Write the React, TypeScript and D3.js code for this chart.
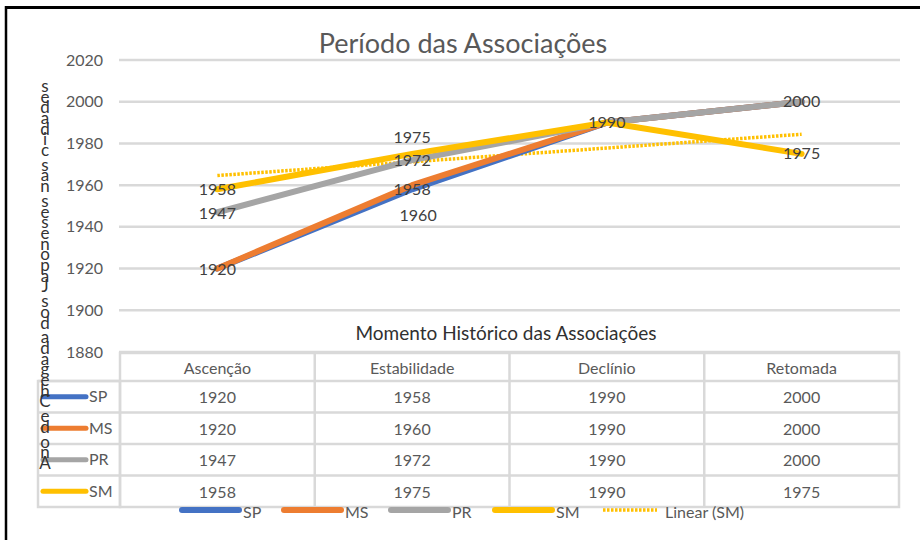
import React from "react";
import * as d3 from "d3";

// categories + series values
const categories = ["Ascenção", "Estabilidade", "Declínio", "Retomada"];
const seriesNames = ["SP", "MS", "PR", "SM"];
const spValues = [1920, 1958, 1990, 2000];
const msValues = [1920, 1960, 1990, 2000];
const prValues = [1947, 1972, 1990, 2000];
const smValues = [1958, 1975, 1990, 1975];
const yTicks = [1880, 1900, 1920, 1940, 1960, 1980, 2000, 2020];

const title = "Período das Associações";
const tableTitle = "Momento Histórico das Associações";
const axisTitle = "Ano de Chegada dos Japoneses nas cidades";
const trendLabel = "Linear (SM)";

const colors: Record<string, string> = {
  SP: "#4472C4",
  MS: "#ED7D31",
  PR: "#A5A5A5",
  SM: "#FFC000",
};

// data label nudges (dx, dy) per series / category
const labelNudge: Record<string, [number, number][]> = {
  SP: [[0, 1], [0, 0], [0, 0], [0, 0]],
  MS: [[0, 1], [6, 30], [0, 0], [0, 0]],
  PR: [[0, 1], [0, 0], [0, 0], [0, 0]],
  SM: [[0, 0], [0, -16], [0, 0], [0, 0]],
};

const FONT = "Lato, 'Open Sans', sans-serif";
const GRID = "#D9D9D9";
const TEXT = "#595959";

export default function App() {
  const width = 920;
  const height = 540;

  const series = [
    { name: "SP", values: spValues },
    { name: "MS", values: msValues },
    { name: "PR", values: prValues },
    { name: "SM", values: smValues },
  ];

  const x = d3.scaleBand<string>().domain(categories).range([120, 899]).padding(0);
  const cx = (c: string) => (x(c) as number) + x.bandwidth() / 2;
  const y = d3.scaleLinear().domain([1880, 2020]).range([352, 60]);

  const line = d3
    .line<number>()
    .x((_, i) => cx(categories[i]))
    .y((d) => y(d));

  // linear trendline for SM (least squares over category index)
  const idx = smValues.map((_, i) => i + 1);
  const mx = d3.mean(idx) as number;
  const my = d3.mean(smValues) as number;
  const slope =
    d3.sum(idx, (v, i) => (v - mx) * (smValues[i] - my)) /
    d3.sum(idx, (v) => (v - mx) * (v - mx));
  const trend = idx.map((v) => my + slope * (v - mx));

  // data labels; identical ones on the same spot drawn once
  const labels: { key: string; x: number; y: number; v: number }[] = [];
  const seen = new Set<string>();
  series.forEach((s) =>
    s.values.forEach((v, i) => {
      const lx = cx(categories[i]) + labelNudge[s.name][i][0];
      const ly = y(v) + labelNudge[s.name][i][1];
      const k = `${Math.round(lx)}-${Math.round(ly)}-${v}`;
      if (seen.has(k)) return;
      seen.add(k);
      labels.push({ key: s.name + i, x: lx, y: ly, v });
    })
  );

  // table geometry
  const tableTop = 353;
  const headerBottom = 381;
  const rowH = 31.5;
  const rowY = (i: number) => headerBottom + i * rowH;
  const tableBottom = rowY(seriesNames.length);
  const keyLeft = 38;
  const colEdges = categories.map((c) => x(c) as number).concat([899]);

  // stacked axis title, drawn bottom-up with upright glyphs
  const axisGlyphs: { ch: string; y: number }[] = [];
  let gy = 463;
  for (const ch of axisTitle) {
    if (ch !== " ") axisGlyphs.push({ ch, y: gy });
    gy -= ch === " " ? 4 : 10.7;
  }

  const legendItems = [
    { name: "SP", x0: 182 },
    { name: "MS", x0: 284 },
    { name: "PR", x0: 391 },
    { name: "SM", x0: 495 },
  ];

  return (
    <svg
      width={width}
      height={height}
      style={{ position: "absolute", left: 0, top: 0, background: "#fff", fontFamily: FONT }}
    >
      <rect x={0} y={0} width={width} height={height} fill="#fff" />
      {/* frame */}
      <line x1={5} x2={920} y1={7.5} y2={7.5} stroke="#000" strokeWidth={3} />
      <line x1={6} x2={6} y1={6} y2={540} stroke="#000" strokeWidth={2.5} />

      <text x={463} y={53} textAnchor="middle" fontSize={27} fill={TEXT}>
        {title}
      </text>

      {/* gridlines + y ticks */}
      {yTicks.map((t) => (
        <g key={t}>
          <line x1={119} x2={900} y1={y(t)} y2={y(t)} stroke={GRID} strokeWidth={2.5} />
          <text x={103} y={y(t)} dy="0.35em" textAnchor="end" fontSize={16} fill={TEXT}>
            {t}
          </text>
        </g>
      ))}

      {/* trendline */}
      <path
        d={line(trend) as string}
        fill="none"
        stroke={colors.SM}
        strokeWidth={3.5}
        strokeDasharray="2.5 1.5"
      />

      {/* series lines */}
      {series.map((s) => (
        <path
          key={s.name}
          d={line(s.values) as string}
          fill="none"
          stroke={colors[s.name]}
          strokeWidth={6}
          strokeLinecap="round"
          strokeLinejoin="round"
        />
      ))}

      {labels.map((l) => (
        <text
          key={l.key}
          x={l.x}
          y={l.y}
          dy="0.35em"
          textAnchor="middle"
          fontSize={16}
          fill="#404040"
        >
          {l.v}
        </text>
      ))}

      {/* data table */}
      <text x={506} y={333} dy="0.35em" textAnchor="middle" fontSize={19} fill="#303030">
        {tableTitle}
      </text>
      <g stroke={GRID} strokeWidth={2.5} fill="none">
        <rect x={120} y={tableTop} width={899 - 120} height={tableBottom - tableTop} />
        <rect x={keyLeft} y={headerBottom} width={120 - keyLeft} height={tableBottom - headerBottom} />
        {seriesNames.map((n, i) => (
          <line key={n} x1={keyLeft} x2={899} y1={rowY(i)} y2={rowY(i)} />
        ))}
        {colEdges.slice(1, -1).map((e) => (
          <line key={e} x1={e} x2={e} y1={tableTop} y2={tableBottom} />
        ))}
      </g>
      {categories.map((c) => (
        <text
          key={c}
          x={cx(c)}
          y={(tableTop + headerBottom) / 2 + 1}
          dy="0.35em"
          textAnchor="middle"
          fontSize={16}
          fill={TEXT}
        >
          {c}
        </text>
      ))}
      {series.map((s, r) => (
        <g key={s.name}>
          <line
            x1={43}
            x2={86}
            y1={rowY(r) + rowH / 2}
            y2={rowY(r) + rowH / 2}
            stroke={colors[s.name]}
            strokeWidth={5}
            strokeLinecap="round"
          />
          <text x={89} y={rowY(r) + rowH / 2} dy="0.35em" fontSize={16} fill={TEXT}>
            {s.name}
          </text>
          {s.values.map((v, i) => (
            <text
              key={i}
              x={cx(categories[i])}
              y={rowY(r) + rowH / 2 + 1}
              dy="0.35em"
              textAnchor="middle"
              fontSize={16}
              fill={TEXT}
            >
              {v}
            </text>
          ))}
        </g>
      ))}

      {/* vertical axis title */}
      {axisGlyphs.map((g, i) => (
        <text key={i} x={45} y={g.y} dy="0.35em" textAnchor="middle" fontSize={17} fill="#333">
          {g.ch}
        </text>
      ))}

      {/* legend */}
      {legendItems.map((l) => (
        <g key={l.name}>
          <line
            x1={l.x0}
            x2={l.x0 + 57}
            y1={510}
            y2={510}
            stroke={colors[l.name]}
            strokeWidth={6}
            strokeLinecap="round"
          />
          <text x={l.x0 + 61} y={512} dy="0.35em" fontSize={16} fill={TEXT}>
            {l.name}
          </text>
        </g>
      ))}
      <line
        x1={603}
        x2={657}
        y1={510}
        y2={510}
        stroke={colors.SM}
        strokeWidth={3.5}
        strokeDasharray="2.5 1.5"
      />
      <text x={665} y={512} dy="0.35em" fontSize={16} fill={TEXT}>
        {trendLabel}
      </text>
    </svg>
  );
}
